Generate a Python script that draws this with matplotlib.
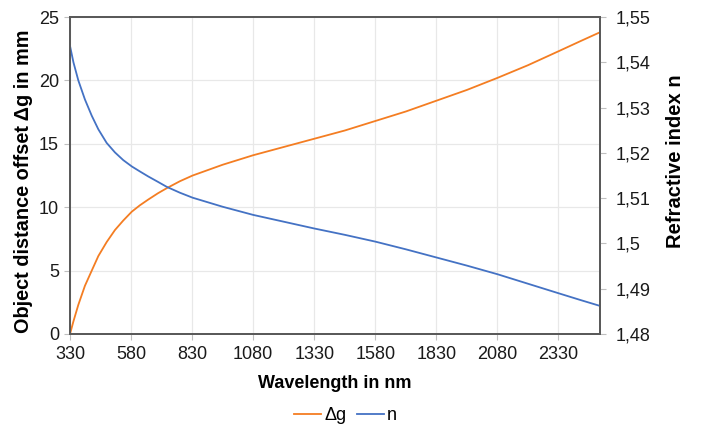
import matplotlib.pyplot as plt
from matplotlib.ticker import FuncFormatter

plt.rcParams['font.family'] = ['Liberation Sans', 'DejaVu Sans']

# values
wavelength = [330, 344, 364, 391, 419, 446, 480, 514, 548, 583, 616, 650, 690, 726, 780, 832,
              955, 1080, 1205, 1330, 1455, 1580, 1705, 1830, 1955, 2080, 2205, 2330, 2420, 2500]
delta_g = [0, 1.0, 2.3, 3.8, 5.0, 6.15, 7.25, 8.2, 8.95, 9.65, 10.15, 10.6, 11.1, 11.5, 12.05, 12.5,
           13.35, 14.1, 14.75, 15.4, 16.05, 16.8, 17.55, 18.4, 19.25, 20.2, 21.2, 22.3, 23.1, 23.8]
refr_n = [1.5436, 1.5400, 1.5360, 1.5318, 1.5282, 1.5252, 1.5222, 1.5201, 1.5184, 1.5170,
          1.5159, 1.5148, 1.5136, 1.5125, 1.5112, 1.5101, 1.5081, 1.5063, 1.5048, 1.5033,
          1.5019, 1.5004, 1.4987, 1.4969, 1.4951, 1.4932, 1.4911, 1.4890, 1.4875, 1.4862]
x_ticks = list(range(330, 2331, 250))
n_ticks = [1.48, 1.49, 1.50, 1.51, 1.52, 1.53, 1.54, 1.55]

orange = '#f47d22'
blue = '#4472c4'
edge = '#595959'

fig = plt.figure(figsize=(7.03, 4.26), dpi=100)
ax = fig.add_axes([0.0996, 0.216, 0.7539, 0.744])
ax2 = ax.twinx()

l1, = ax.plot(wavelength, delta_g, color=orange, linewidth=1.3, label='Δg',
              solid_joinstyle='round')
l2, = ax2.plot(wavelength, refr_n, color=blue, linewidth=1.3, label='n',
               solid_joinstyle='round')

ax.set_xlim(330, 2500)
ax.set_ylim(0, 25)
ax2.set_ylim(1.48, 1.55)
ax.set_xticks(x_ticks)
ax.set_yticks(range(0, 26, 5))
ax2.set_yticks(n_ticks)
ax2.yaxis.set_major_formatter(FuncFormatter(
    lambda v, p: f"{v:.2f}".rstrip('0').replace('.', ',')))

ax.grid(True, color='#e8e8e8', linewidth=0.9)
ax.set_axisbelow(True)

for a in (ax, ax2):
    for s in a.spines.values():
        s.set_color(edge)
        s.set_linewidth(1.3)
    a.tick_params(colors='#bfbfbf', labelcolor='#1a1a1a', labelsize=13, length=4, width=0.8)
ax.tick_params(axis='y', pad=4)
ax.tick_params(axis='x', pad=5)
ax2.tick_params(axis='y', pad=7)

ax.set_xlabel('Wavelength in nm', fontsize=13, fontweight='bold', labelpad=8)
ax.set_ylabel('Object distance offset Δg in mm', fontsize=14.3, fontweight='bold')
ax2.set_ylabel('Refractive index n', fontsize=14.5, fontweight='bold')
ax.yaxis.set_label_coords(-0.07, 0.481)
ax2.yaxis.set_label_coords(1.124, 0.546)

fig.legend(handles=[l1, l2], loc='center', bbox_to_anchor=(0.4915, 0.024),
           ncol=2, frameon=False, fontsize=13, handlelength=1.5,
           handletextpad=0.15, columnspacing=0.6)

fig.savefig('out.png', dpi=100)
